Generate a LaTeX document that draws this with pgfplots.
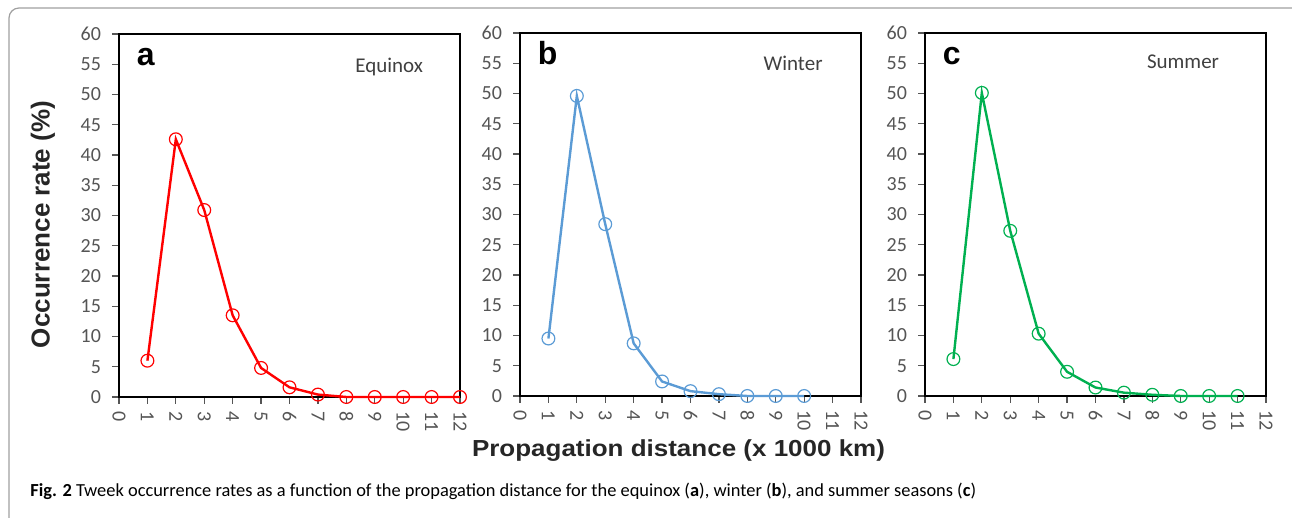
\documentclass[border=0pt]{standalone}
\usepackage{pgfplots}
\pgfplotsset{compat=1.18}
\usepackage{fontspec}
\setmainfont{Carlito}
\newfontfamily\arialfont{Liberation Sans}

\definecolor{tickgray}{HTML}{555555}
\definecolor{labgray}{HTML}{404040}
\definecolor{eqred}{HTML}{FF0000}
\definecolor{wiblue}{HTML}{5B9BD5}
\definecolor{sugreen}{HTML}{00B050}

\pgfplotsset{
  panel/.style={
    scale only axis, width=170.5pt, height=181.5pt,
    anchor=south west,
    xmin=0, xmax=12, ymin=0, ymax=60,
    xtick={0,...,12}, ytick={0,5,...,60},
    axis line style={line width=1.3pt},
    tick align=outside, major tick length=3.5pt,
    xtick pos=bottom, ytick pos=left,
    tick style={tickgray, line width=0.6pt},
    ticklabel style={font=\fontsize{10}{12}\selectfont, text=tickgray},
    yticklabel style={xshift=-2pt},
    xticklabel style={rotate=-90, anchor=west},
    /pgf/number format/assume math mode=true,
    clip=false,
  },
  ser/.style={color=#1, line width=1.2pt, mark=o, mark size=3.2pt,
    mark options={line width=0.6pt}},
}

\newcommand{\panellabels}[4]{%
  \node[anchor=base west, font=\arialfont\bfseries\fontsize{16}{18}\selectfont]
    at (rel axis cs:0.032,0.912) {#1};
  \node[anchor=base east, text=labgray, font=\fontsize{10.5}{12}\selectfont]
    at (rel axis cs:#3,#4) {#2};
}

\begin{document}
\begin{tikzpicture}[x=0.5pt, y=0.5pt]
\path[use as bounding box] (0,0) rectangle (1292,518);
\begin{scope}
\clip (0,0) rectangle (1292,518);
\draw[gray!75, line width=0.6pt, rounded corners=5pt] (9,-12) rectangle (1304,510);
\end{scope}

% panel a: equinox
\begin{axis}[panel, at={(59.5pt,60.5pt)}]
\addplot[ser=eqred] coordinates {
  (1,6.0) (2,42.6) (3,30.9) (4,13.5) (5,4.8) (6,1.6) (7,0.4)
  (8,0) (9,0) (10,0) (11,0) (12,0)};
\panellabels{a}{Equinox}{0.912}{0.895}
\end{axis}

% panel b: winter
\begin{axis}[panel, at={(260pt,61pt)}]
\addplot[ser=wiblue] coordinates {
  (1,9.5) (2,49.6) (3,28.4) (4,8.7) (5,2.4) (6,0.8) (7,0.3)
  (8,0) (9,0) (10,0)};
\panellabels{b}{Winter}{0.908}{0.898}
\end{axis}

% panel c: summer
\begin{axis}[panel, at={(462.5pt,61pt)}]
\addplot[ser=sugreen] coordinates {
  (1,6.1) (2,50.1) (3,27.3) (4,10.3) (5,4.0) (6,1.4) (7,0.55)
  (8,0.2) (9,0) (10,0) (11,0)};
\panellabels{c}{Summer}{0.883}{0.903}
\end{axis}

\node[rotate=90, font=\arialfont\bfseries\fontsize{13}{15}\selectfont, text=black!85]
  at (21.5pt,146.75pt) {Occurrence rate (\%)};
\node[anchor=base, font=\arialfont\bfseries\fontsize{11.6}{14}\selectfont, text=black!85]
  at (339.25pt,30.5pt) {\scalebox{1.12}[1]{Propagation distance (x 1000 km)}};
\node[anchor=base west, font=\fontsize{9.2}{11}\selectfont, inner sep=0pt]
  at (15pt,10.5pt) {\textbf{Fig. 2} Tweek occurrence rates as a function of the propagation distance for the equinox (\textbf{a}), winter (\textbf{b}), and summer seasons (\textbf{c})};
\end{tikzpicture}
\end{document}
